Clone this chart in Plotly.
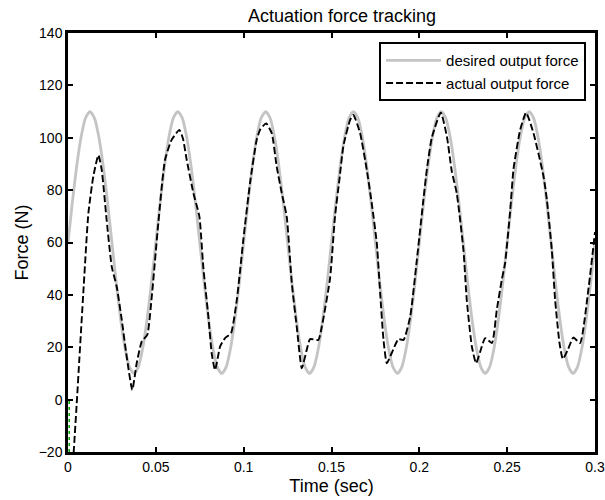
import plotly.graph_objects as go

# Desired output force (N), sampled every 2.5 ms from 0 to 0.3 s
desired_time = [round(i * 0.0025, 4) for i in range(121)]
desired_force = [
    60, 75.5, 89.4, 100.5, 107.6, 110, 107.6, 100.5, 89.4, 75.5,
    60, 44.5, 30.6, 19.5, 12.4, 10, 12.4, 19.5, 30.6, 44.5,
    60, 75.5, 89.4, 100.5, 107.6, 110, 107.6, 100.5, 89.4, 75.5,
    60, 44.5, 30.6, 19.5, 12.4, 10, 12.4, 19.5, 30.6, 44.5,
    60, 75.5, 89.4, 100.5, 107.6, 110, 107.6, 100.5, 89.4, 75.5,
    60, 44.5, 30.6, 19.5, 12.4, 10, 12.4, 19.5, 30.6, 44.5,
    60, 75.5, 89.4, 100.5, 107.6, 110, 107.6, 100.5, 89.4, 75.5,
    60, 44.5, 30.6, 19.5, 12.4, 10, 12.4, 19.5, 30.6, 44.5,
    60, 75.5, 89.4, 100.5, 107.6, 110, 107.6, 100.5, 89.4, 75.5,
    60, 44.5, 30.6, 19.5, 12.4, 10, 12.4, 19.5, 30.6, 44.5,
    60, 75.5, 89.4, 100.5, 107.6, 110, 107.6, 100.5, 89.4, 75.5,
    60, 44.5, 30.6, 19.5, 12.4, 10, 12.4, 19.5, 30.6, 44.5,
    60,
]

# Actual output force (N)
actual_time = [
    0.0025, 0.0051, 0.0065, 0.0087, 0.0116, 0.0144, 0.0173, 0.0192, 0.0220, 0.0249,
    0.0277, 0.0306, 0.0334, 0.0366, 0.0391, 0.0420, 0.0451, 0.0477, 0.0514, 0.0552,
    0.0590, 0.0634, 0.0655, 0.0676, 0.0714, 0.0748, 0.0770, 0.0799, 0.0818, 0.0837,
    0.0866, 0.0894, 0.0928, 0.0961, 0.0998, 0.1036, 0.1074, 0.1093, 0.1128, 0.1160,
    0.1188, 0.1217, 0.1245, 0.1274, 0.1302, 0.1331, 0.1359, 0.1378, 0.1425, 0.1445,
    0.1492, 0.1520, 0.1545, 0.1568, 0.1606, 0.1625, 0.1663, 0.1701, 0.1729, 0.1758,
    0.1777, 0.1796, 0.1815, 0.1843, 0.1881, 0.1910, 0.1948, 0.1986, 0.2023, 0.2043,
    0.2071, 0.2122, 0.2157, 0.2185, 0.2213, 0.2251, 0.2270, 0.2299, 0.2323, 0.2345,
    0.2375, 0.2413, 0.2441, 0.2470, 0.2488, 0.2517, 0.2536, 0.2574, 0.2608, 0.2650,
    0.2707, 0.2726, 0.2754, 0.2773, 0.2798, 0.2817, 0.2845, 0.2877, 0.2915, 0.2962,
    0.3000,
]
actual_force = [
    -28, 0, 16, 40.6, 71.2, 85.2, 93.4, 87.7, 68.6, 50.8,
    43.2, 30.5, 16.5, 3.7, 13.9, 22.2, 24.7, 39.4, 67.3, 91.5,
    99.2, 103, 99.5, 91.5, 78.8, 69.9, 50.8, 31.7, 17.7, 11.3,
    20.3, 23.5, 25.4, 38.1, 61, 82.6, 99.2, 103, 105.5, 101.7,
    89, 78.8, 69.9, 44.5, 27.9, 12, 19, 23.1, 22.8, 27.9,
    46.4, 70, 84, 97, 106.8, 108.7, 101.7, 87.7, 75, 59.7,
    40.6, 22.8, 13.9, 17.8, 23.1, 22.8, 31.7, 53.4, 76.3, 88,
    100, 109.6, 100.4, 87.1, 78.8, 57.2, 38.1, 20.3, 13.9, 18,
    23.5, 21.6, 34.3, 46, 52, 72, 88, 103, 109.6, 101.7,
    85.2, 76.3, 57.2, 38.1, 21.6, 15.5, 19, 23.7, 21.6, 41.9,
    64,
]

# Short green dotted segment near the origin
green_time = [0.0007, 0.0007]
green_force = [-20, 0]

x_ticks = [0, 0.05, 0.1, 0.15, 0.2, 0.25, 0.3]
x_labels = ["0", "0.05", "0.1", "0.15", "0.2", "0.25", "0.3"]
y_ticks = [-20, 0, 20, 40, 60, 80, 100, 120, 140]

FONT = "Arial, Liberation Sans, sans-serif"

fig = go.Figure()
fig.add_trace(go.Scatter(
    x=desired_time, y=desired_force, mode="lines", name="desired output force",
    line=dict(color="#c4c4c4", width=2.8, shape="spline", smoothing=0.6),
    legendgroup="a",
))
fig.add_trace(go.Scatter(
    x=actual_time, y=actual_force, mode="lines", name="actual output force",
    line=dict(color="black", width=1.9, dash="7px,3px", shape="spline", smoothing=0.5),
    legendgroup="b",
))
fig.add_trace(go.Scatter(
    x=green_time, y=green_force, mode="lines", showlegend=False,
    line=dict(color="#00a000", width=1.5, dash="dot"),
))

axis_common = dict(
    showline=True, linecolor="black", linewidth=2.5, mirror="ticks",
    ticks="inside", ticklen=5, tickwidth=2, tickcolor="black",
    showgrid=False, zeroline=False, automargin=False,
    tickfont=dict(family=FONT, size=14, color="black"),
)

fig.update_layout(
    width=605, height=500,
    margin=dict(l=68, r=10, t=33, b=48),
    paper_bgcolor="white", plot_bgcolor="white",
    font=dict(family=FONT, color="black"),
    title=dict(text="Actuation force tracking", x=0.52, xref="paper", xanchor="center",
               y=0.968, yanchor="middle", font=dict(family=FONT, size=18, color="black")),
    xaxis=dict(range=[0, 0.3], tickvals=x_ticks, ticktext=x_labels,
               title=dict(text="Time (sec)", font=dict(family=FONT, size=18), standoff=6),
               **axis_common),
    yaxis=dict(range=[-20, 140], tickvals=y_ticks,
               title=dict(text="Force (N)", font=dict(family=FONT, size=18), standoff=6),
               **axis_common),
    legend=dict(x=0.983, y=0.978, xanchor="right", yanchor="top",
                bgcolor="white", bordercolor="black", borderwidth=2,
                font=dict(family=FONT, size=15, color="black"),
                traceorder="grouped", tracegroupgap=0, itemwidth=55),
    showlegend=True,
)

fig.write_html("out.html")
